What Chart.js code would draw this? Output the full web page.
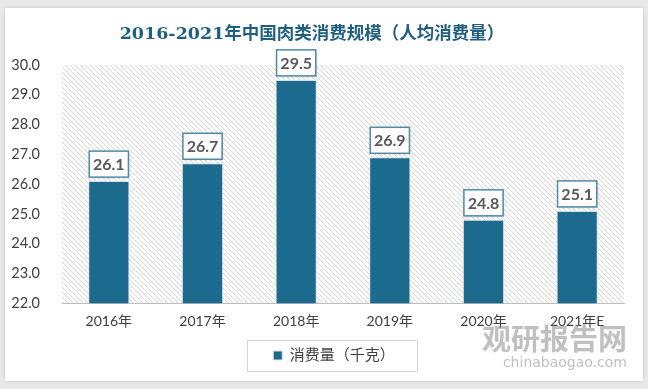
<!DOCTYPE html>
<html>
<head>
<meta charset="utf-8">
<script src="https://cdn.jsdelivr.net/npm/chart.js@4"></script>
<style>
  html, body { margin: 0; padding: 0; background: #ececec; }
  #wrap { width: 648px; height: 389px; position: relative; }
</style>
</head>
<body>
<div id="wrap"><canvas id="chart" width="648" height="389"></canvas></div>
<script>
const years = ['2016年', '2017年', '2018年', '2019年', '2020年', '2021年E'];
const consumption = [26.1, 26.7, 29.5, 26.9, 24.8, 25.1];
const seriesName = '消费量（千克）';
const chartTitle = '2016-2021年中国肉类消费规模（人均消费量）';

const BAR = '#1c6a8e';
const FONT = 'Lato, "Noto Sans CJK SC", sans-serif';

function hatch() {
    const c = document.createElement('canvas');
    c.width = 5; c.height = 5;
    const g = c.getContext('2d');
    g.fillStyle = '#ffffff';
    g.fillRect(0, 0, 5, 5);
    g.strokeStyle = '#d6d6d6';
    g.lineWidth = 1;
    g.beginPath();
    g.moveTo(-1, -1); g.lineTo(6, 6);
    g.moveTo(-1, 4); g.lineTo(1, 6);
    g.moveTo(4, -1); g.lineTo(6, 1);
    g.stroke();
    return g.createPattern(c, 'repeat');
}

const frame = {
    id: 'frame',
    afterLayout(chart) {
        // legend sits a little right of centre in the original
        chart.legend.left += 22;
        chart.legend.right += 22;
        (chart.legend.legendHitBoxes || []).forEach(h => { h.left += 22; });
    },
    beforeDraw(chart) {
        const ctx = chart.ctx;
        const a = chart.chartArea;
        ctx.save();
        ctx.fillStyle = '#e9e9e9';
        ctx.fillRect(0, 0, chart.width, chart.height);
        ctx.shadowColor = 'rgba(0,0,0,0.15)';
        ctx.shadowBlur = 4;
        ctx.fillStyle = '#ffffff';
        ctx.fillRect(5, 8, 638, 373);
        ctx.shadowBlur = 0;
        ctx.fillStyle = hatch();
        ctx.fillRect(a.left, a.top, a.right - a.left, a.bottom - a.top);
        ctx.restore();
    },
    afterDatasetsDraw(chart) {
        const ctx = chart.ctx;
        const meta = chart.getDatasetMeta(0);
        ctx.save();
        meta.data.forEach((bar, i) => {
            const w = bar.width - 2, h = 26;
            const x = bar.x - w / 2, y = bar.y - 4 - h;
            ctx.shadowColor = 'rgba(0,0,0,0.2)';
            ctx.shadowBlur = 3;
            ctx.shadowOffsetX = 1;
            ctx.shadowOffsetY = 1;
            ctx.fillStyle = '#ffffff';
            ctx.fillRect(x, y, w, h);
            ctx.shadowColor = 'transparent';
            ctx.strokeStyle = '#4f8aa6';
            ctx.lineWidth = 1.5;
            ctx.strokeRect(x, y, w, h);
            ctx.fillStyle = '#595959';
            ctx.font = 'bold 16px ' + FONT;
            ctx.textAlign = 'center';
            ctx.textBaseline = 'middle';
            ctx.fillText(consumption[i].toFixed(1), bar.x, y + h / 2 + 1);
        });
        ctx.restore();
    },
    afterDraw(chart) {
        const ctx = chart.ctx;
        const hb = chart.legend.legendHitBoxes[0];
        ctx.save();
        if (hb) {
            ctx.strokeStyle = '#d4d4d4';
            ctx.lineWidth = 1;
            ctx.strokeRect(Math.round(hb.left - 26) + 0.5, Math.round(hb.top - 8) + 0.5,
                Math.round(hb.width + 48), Math.round(hb.height + 16));
        }
        ctx.fillStyle = 'rgba(130,130,130,0.5)';
        ctx.font = 'bold 29px "Noto Sans CJK SC", sans-serif';
        ctx.textAlign = 'right';
        ctx.textBaseline = 'middle';
        ctx.fillText('观研报告网', 627, 339);
        ctx.font = '14px "DejaVu Sans", sans-serif';
        ctx.fillText('chinabaogao.com', 627, 363);
        ctx.restore();
    }
};

new Chart(document.getElementById('chart'), {
    type: 'bar',
    data: {
        labels: years,
        datasets: [{
            label: seriesName,
            data: consumption,
            backgroundColor: BAR,
            borderColor: '#d3e0e7',
            borderWidth: 1,
            categoryPercentage: 1,
            barPercentage: 0.44
        }]
    },
    options: {
        responsive: false,
        animation: false,
        layout: { padding: { left: 0, right: 24, top: 0, bottom: 16 } },
        plugins: {
            title: {
                display: true,
                text: chartTitle,
                color: '#1f5f80',
                font: { family: '"DejaVu Serif", "Noto Sans CJK SC", serif', size: 17.5, weight: 'bold' },
                padding: { top: 24, bottom: 20 }
            },
            legend: {
                display: true,
                position: 'bottom',
                labels: {
                    boxWidth: 9,
                    boxHeight: 9,
                    color: '#404040',
                    font: { family: FONT, size: 15 },
                    padding: 10
                }
            },
            tooltip: { enabled: false }
        },
        scales: {
            x: {
                grid: { display: false },
                border: { display: true, color: '#bfbfbf', width: 1 },
                afterFit(scale) { scale.height += 6; },
                ticks: { color: '#404040', font: { family: FONT, size: 14 }, padding: 2 }
            },
            y: {
                min: 22,
                max: 30,
                grid: { display: false },
                border: { display: false },
                afterFit(scale) { scale.width = 62; },
                ticks: {
                    stepSize: 1,
                    color: '#404040',
                    font: { family: FONT, size: 14.5 },
                    padding: 14,
                    callback: v => v.toFixed(1)
                }
            }
        }
    },
    plugins: [frame]
});
</script>
</body>
</html>
